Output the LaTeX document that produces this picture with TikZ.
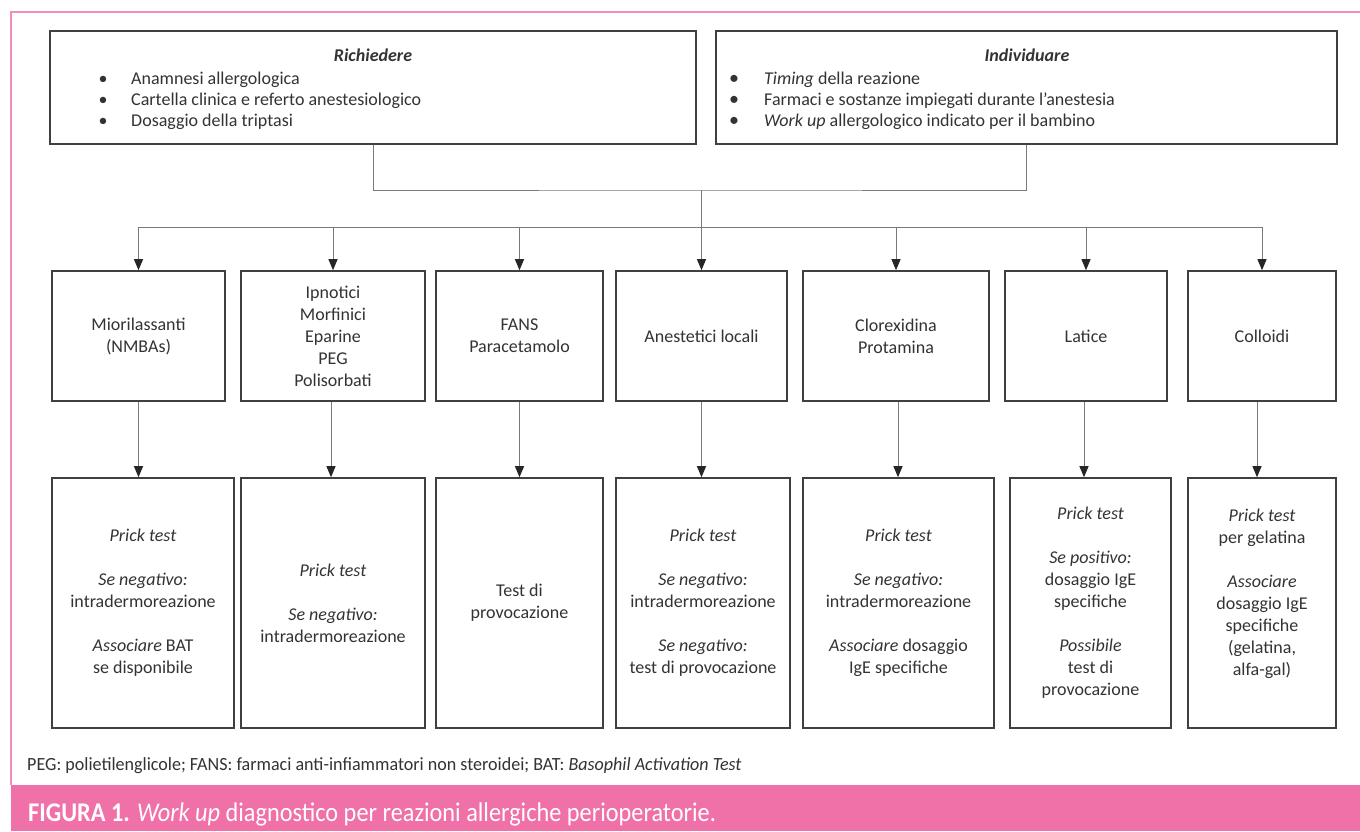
\documentclass[tikz,border=0pt]{standalone}
\usepackage{fontspec}
\setmainfont{Carlito}
\newfontfamily\notefont[FakeStretch=0.97]{Carlito}
\newfontfamily\capfont[FakeStretch=0.9]{Carlito}
\usetikzlibrary{arrows.meta}
\definecolor{pinkline}{HTML}{F28DBB}
\definecolor{pinkband}{HTML}{F070A8}
\definecolor{txt}{HTML}{333333}
\definecolor{boxline}{HTML}{404040}
\definecolor{connline}{HTML}{7A7A7A}
\begin{document}
\begin{tikzpicture}[x=1pt,y=-1pt,
  box/.style={draw=boxline,line width=1.6pt,rectangle,inner sep=0pt,align=center,text=txt,font=\fontsize{18}{22}\selectfont},
  midbox/.style={box,minimum height=130pt},
  lowbox/.style={box,minimum height=250pt},
  topbox/.style={box,minimum height=113pt},
  conn/.style={draw=connline,line width=1pt},
  arr/.style={conn,-{Triangle[length=11pt,width=9pt,color=black!85]}},
  ttl/.style={anchor=base,text=txt,font=\fontsize{18}{22}\selectfont\bfseries\itshape},
  itm/.style={anchor=base west,text=txt,font=\fontsize{18}{22}\selectfont,inner sep=0pt},
  bul/.style={anchor=base,text=txt,font=\fontsize{18}{22}\selectfont,inner sep=0pt},
  bigbul/.style={anchor=base,text=txt,font=\fontsize{20}{20}\selectfont,inner sep=0pt},
]
\useasboundingbox (0,0) rectangle (1360,831);
\fill[white] (0,0) rectangle (1360,831);

% frame and caption band
\draw[pinkline,line width=1.6pt] (1360,12) -- (11,12) -- (11,785);
\fill[pinkband] (11,785) rectangle (1360,831);

% top boxes
\node[topbox,minimum width=646pt] (tl) at (373,87.5) {};
\node[topbox,minimum width=621pt] (tr) at (1026.5,87.5) {};

\node[ttl] (tlt) at (373,61) {Richiedere};
\node[bul] (tlb1) at (103,84) {•};
\node[bul] (tlb2) at (103,105) {•};
\node[bul] (tlb3) at (103,126) {•};
\node[itm] (tl1) at (131,84) {Anamnesi allergologica};
\node[itm] (tl2) at (131,105) {Cartella clinica e referto anestesiologico};
\node[itm] (tl3) at (131,126) {Dosaggio della triptasi};

\node[ttl] (trt) at (1027,61) {Individuare};
\node[bigbul] (trb1) at (734,84.5) {•};
\node[bigbul] (trb2) at (734,105.5) {•};
\node[bigbul] (trb3) at (734,126.5) {•};
\node[itm] (tr1) at (764,84) {\textit{Timing} della reazione};
\node[itm] (tr2) at (764,105) {Farmaci e sostanze impiegati durante l’anestesia};
\node[itm] (tr3) at (764,126) {\textit{Work up} allergologico indicato per il bambino};

% middle boxes
\node[midbox,minimum width=173pt] (m1) at (138.5,336) {Miorilassanti\\(NMBAs)};
\node[midbox,minimum width=184pt] (m2) at (333,336) {Ipnotici\\Morfinici\\Eparine\\PEG\\Polisorbati};
\node[midbox,minimum width=167pt] (m3) at (519.5,336) {FANS\\Paracetamolo};
\node[midbox,minimum width=171pt] (m4) at (701.5,336) {Anestetici locali};
\node[midbox,minimum width=186pt] (m5) at (896,336) {Clorexidina\\Protamina};
\node[midbox,minimum width=162pt] (m6) at (1086,336) {Latice};
\node[midbox,minimum width=148pt] (m7) at (1262,336) {Colloidi};

% bottom boxes
\node[lowbox,minimum width=182pt] (b1) at (143,603) {\textit{Prick test}\\[22pt]\textit{Se negativo:}\\intradermoreazione\\[22pt]\textit{Associare} BAT\\se disponibile};
\node[lowbox,minimum width=184pt] (b2) at (333,603) {\textit{Prick test}\\[22pt]\textit{Se negativo:}\\intradermoreazione};
\node[lowbox,minimum width=167pt] (b3) at (519.5,603) {Test di\\provocazione};
\node[lowbox,minimum width=174pt] (b4) at (703,603) {\textit{Prick test}\\[22pt]\textit{Se negativo:}\\intradermoreazione\\[22pt]\textit{Se negativo:}\\test di provocazione};
\node[lowbox,minimum width=191pt] (b5) at (898.5,603) {\textit{Prick test}\\[22pt]\textit{Se negativo:}\\intradermoreazione\\[22pt]\textit{Associare} dosaggio\\IgE specifiche};
\node[lowbox,minimum width=161pt] (b6) at (1090.5,603) {\textit{Prick test}\\[22pt]\textit{Se positivo:}\\dosaggio IgE\\specifiche\\[22pt]\textit{Possibile}\\test di\\provocazione};
\node[lowbox,minimum width=148pt] (b7) at (1262,603) {\textit{Prick test}\\per gelatina\\[22pt]\textit{Associare}\\dosaggio IgE\\specifiche\\(gelatina,\\alfa-gal)\\\mbox{}};

% connectors
\coordinate (j) at (701,190);
\coordinate (d) at (701,227);
\draw[conn] (tl.south) |- (j) -| (tr.south);
\draw[conn] (j) -- (d);
\draw[conn] (m1.north |- d) -- (m7.north |- d);
\foreach \i in {1,...,7} {
  \draw[arr] (m\i.north |- d) -- (m\i.north);
}
\draw[arr] (m1.south) -- (m1.south |- b1.north);
\draw[arr] ([xshift=-2pt]m2.south) -- ([xshift=-2pt]m2.south |- b2.north);
\draw[arr] (m3.south) -- (m3.south |- b3.north);
\draw[arr] (m4.south) -- (m4.south |- b4.north);
\draw[arr] ([xshift=2pt]m5.south) -- ([xshift=2pt]m5.south |- b5.north);
\draw[arr] ([xshift=-2pt]m6.south) -- ([xshift=-2pt]m6.south |- b6.north);
\draw[arr] ([xshift=-5pt]m7.south) -- ([xshift=-5pt]m7.south |- b7.north);

% footnote and caption
\node[anchor=base west,inner sep=0pt,text=txt,font=\notefont\fontsize{18.6}{22}\selectfont] (note) at (27,770)
  {PEG: polietilenglicole; FANS: farmaci anti-infiammatori non steroidei; BAT: \textit{Basophil Activation Test}};
\node[anchor=base west,inner sep=0pt,text=white,font=\capfont\fontsize{27}{30}\selectfont] (cap) at (28,821)
  {\textbf{FIGURA 1.} \textit{Work up} diagnostico per reazioni allergiche perioperatorie.};
\end{tikzpicture}
\end{document}
